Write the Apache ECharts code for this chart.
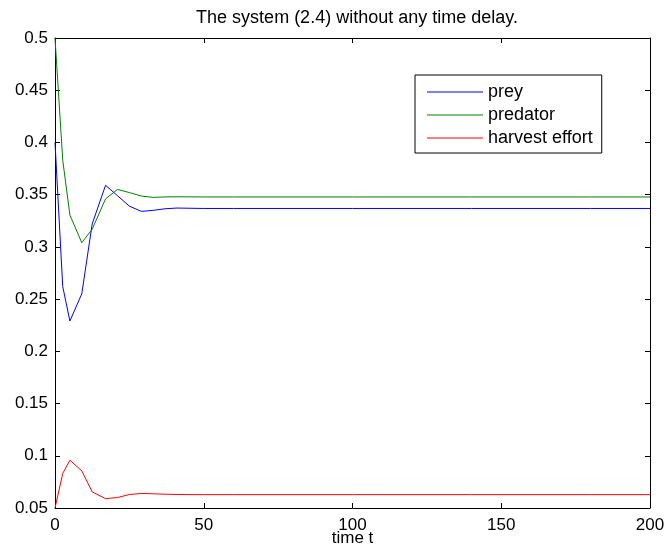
<!DOCTYPE html>
<html>
<head>
<meta charset="utf-8">
<script src="https://cdn.jsdelivr.net/npm/echarts@6/dist/echarts.min.js"></script>
<style>
  html, body { margin: 0; padding: 0; background: #fff; }
  #chart { width: 667px; height: 553px; }
</style>
</head>
<body>
<div id="chart"></div>
<script>
// time points (t) and the three state variables
var times    = [0, 2.6, 5, 9, 12.5, 17, 21, 25, 29, 33, 37, 41, 45, 50, 60, 80, 100, 120, 140, 160, 180, 200];
var prey     = [0.400, 0.262, 0.229, 0.255, 0.322, 0.359, 0.349, 0.339, 0.334, 0.335, 0.3365, 0.3372, 0.3370, 0.3368, 0.3368, 0.3368, 0.3368, 0.3368, 0.3368, 0.3368, 0.3368, 0.3368];
var predator = [0.500, 0.383, 0.3305, 0.304, 0.317, 0.346, 0.355, 0.352, 0.3487, 0.3474, 0.3478, 0.348, 0.3479, 0.3478, 0.3478, 0.3478, 0.3478, 0.3478, 0.3478, 0.3478, 0.3478, 0.3478];
var harvest  = [0.050, 0.083, 0.0958, 0.0856, 0.0654, 0.059, 0.060, 0.0629, 0.0639, 0.0636, 0.0632, 0.0630, 0.0628, 0.0628, 0.0628, 0.0628, 0.0628, 0.0628, 0.0628, 0.0628, 0.0628, 0.0628];

var seriesNames = ['prey', 'predator', 'harvest effort'];
var seriesColors = ['#0000ff', '#008000', '#ff0000'];
var seriesValues = [prey, predator, harvest];

var FONT = '"Liberation Sans", Arial, Helvetica, sans-serif';

function pairs(ys) {
    var out = [];
    for (var i = 0; i < times.length; i++) out.push([times[i], ys[i]]);
    return out;
}

var chart = echarts.init(document.getElementById('chart'));

var axisLine = { show: true, onZero: false, lineStyle: { color: '#000', width: 1 } };
var axisTick = { show: true, inside: true, length: 5, lineStyle: { color: '#000', width: 1 } };

var series = [];
for (var k = 0; k < seriesNames.length; k++) {
    series.push({
        name: seriesNames[k],
        type: 'line',
        data: pairs(seriesValues[k]),
        symbol: 'none',
        animation: false,
        lineStyle: { color: seriesColors[k], width: 1 },
        itemStyle: { color: seriesColors[k] }
    });
}

var option = {
    backgroundColor: '#fff',
    animation: false,
    textStyle: { fontFamily: FONT },
    title: {
        text: 'The system (2.4) without any time delay.',
        left: 352,
        textAlign: 'center',
        top: 4,
        textStyle: { fontFamily: FONT, fontSize: 18, fontWeight: 'normal', color: '#000' }
    },
    grid: { left: 55, right: 17, top: 38, bottom: 45, show: false, outerBoundsMode: 'none', containLabel: false },
    legend: {
        orient: 'vertical',
        left: 415,
        top: 75,
        data: seriesNames,
        icon: 'rect',
        itemWidth: 56,
        itemHeight: 1,
        itemGap: 5,
        padding: [8, 9, 6, 12],
        borderColor: '#000',
        borderWidth: 1,
        backgroundColor: '#fff',
        textStyle: { fontFamily: FONT, fontSize: 18, color: '#000' }
    },
    xAxis: [{
        type: 'value', min: 0, max: 200, interval: 50,
        name: 'time t', nameLocation: 'middle', nameGap: 30, nameMoveOverlap: false,
        nameTextStyle: { fontFamily: FONT, fontSize: 17, color: '#000', verticalAlign: 'middle' },
        axisLine: axisLine, axisTick: axisTick,
        axisLabel: { margin: 9, fontFamily: FONT, fontSize: 17, color: '#000' },
        splitLine: { show: false }
    }, {
        type: 'value', min: 0, max: 200, interval: 50, position: 'top',
        axisLine: axisLine, axisTick: axisTick,
        axisLabel: { show: false }, splitLine: { show: false }
    }],
    yAxis: [{
        type: 'value', min: 0.05, max: 0.5, interval: 0.05,
        axisLine: axisLine, axisTick: axisTick,
        axisLabel: { margin: 7, fontFamily: FONT, fontSize: 17, color: '#000' },
        splitLine: { show: false }
    }, {
        type: 'value', min: 0.05, max: 0.5, interval: 0.05, position: 'right',
        axisLine: axisLine, axisTick: axisTick,
        axisLabel: { show: false }, splitLine: { show: false }
    }],
    series: series
};

chart.setOption(option);
</script>
</body>
</html>
